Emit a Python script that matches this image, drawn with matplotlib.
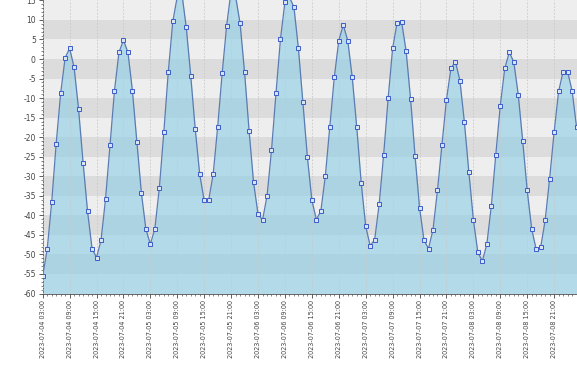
import matplotlib
matplotlib.use("Agg")
import matplotlib.pyplot as plt
import matplotlib.dates as mdates
import numpy as np
import pandas as pd

plt.rcParams['axes.unicode_minus'] = False

# hourly readings, starting 2023-07-04 03:00
start = "2023-07-04 03:00"
day1 = [-55.5, -48.7, -36.7, -21.7, -8.8, 0.3, 2.7, -2.1, -12.9, -26.5, -39.0, -48.5,
        -50.8, -46.4, -35.9, -22.1, -8.1, 1.7, 4.8, 1.7, -8.1, -21.3, -34.3, -43.5]
day2 = [-47.4, -43.4, -33.0, -18.7, -3.2, 9.6, 16.0, 17.0, 8.1, -4.3, -17.9, -29.5,
        -36.2, -36.1, -29.5, -17.4, -3.7, 8.5, 17.5, 16.0, 9.1, -3.4, -18.3, -31.5]
day3 = [-39.7, -41.2, -35.1, -23.4, -8.8, 5.1, 14.6, 15.8, 13.3, 2.7, -11.1, -25.1,
        -36.1, -41.1, -38.9, -30.0, -17.3, -4.7, 4.7, 8.7, 4.7, -4.7, -17.4, -31.7]
day4 = [-42.8, -47.8, -46.2, -37.2, -24.5, -10.1, 2.7, 9.3, 9.5, 2.1, -10.2, -24.8,
        -38.0, -46.4, -48.5, -43.7, -33.6, -21.9, -10.4, -2.4, -0.7, -5.5, -16.2, -29.0]
day5 = [-41.1, -49.5, -51.7, -47.4, -37.6, -24.5, -11.9, -2.4, 1.7, -0.7, -9.1, -21.0,
        -33.6, -43.5, -48.7, -48.2, -41.3, -30.6, -18.7, -8.3, -3.2, -3.2, -8.1, -17.4]

values = day1 + day2 + day3 + day4 + day5
times = pd.date_range(start, periods=len(values), freq="h")

fig = plt.figure(figsize=(5.77, 3.70), dpi=100)
ax = fig.add_axes([42.7 / 577, 76.5 / 370, 1 - 42.7 / 577, 293.5 / 370])

ymin, ymax = -60, 15.1
# alternating horizontal bands
for lo in range(-60, 20, 5):
    col = "#dcdcdc" if (lo // 5) % 2 == 1 else "#eeeeee"
    ax.axhspan(lo, lo + 5, color=col, zorder=0, lw=0)

ax.fill_between(times, values, ymin, color="#8fcfe6", alpha=0.62, lw=0, zorder=2)
ax.plot(times, values, color="#5b7bb3", linewidth=0.9, zorder=3,
        marker="s", markersize=3.2, markerfacecolor="#d6e4f5",
        markeredgecolor="#3b5cc9", markeredgewidth=0.7)

ax.set_ylim(ymin, ymax)
ax.set_xlim(times[0], times[0] + pd.Timedelta(hours=119.1))

ax.xaxis.set_major_locator(mdates.HourLocator(byhour=[3, 9, 15, 21]))
ax.xaxis.set_minor_locator(mdates.HourLocator())
ax.xaxis.set_major_formatter(mdates.DateFormatter("%Y-%m-%d %H:%M"))
ax.set_yticks(np.arange(-60, 16, 5))
ax.set_yticks(np.arange(-60, 16, 1), minor=True)

ax.grid(axis="x", which="major", color="#c8c8c8", linestyle=(0, (2, 2)),
        linewidth=0.6, zorder=1)
ax.set_axisbelow(False)

for lbl in ax.get_xticklabels():
    lbl.set_rotation(90)
ax.tick_params(axis="x", which="major", labelsize=4.7, colors="#444444",
               length=3, width=0.6, pad=2)
ax.tick_params(axis="x", which="minor", length=1.5, width=0.5, colors="#555555")
ax.tick_params(axis="y", which="major", labelsize=5.5, colors="#444444",
               length=3, width=0.6, pad=2)
ax.tick_params(axis="y", which="minor", length=1.5, width=0.5, colors="#555555")

for side in ["top", "right"]:
    ax.spines[side].set_visible(False)
for side in ["left", "bottom"]:
    ax.spines[side].set_color("#666666")
    ax.spines[side].set_linewidth(0.7)

plt.savefig("out.png", dpi=100)
